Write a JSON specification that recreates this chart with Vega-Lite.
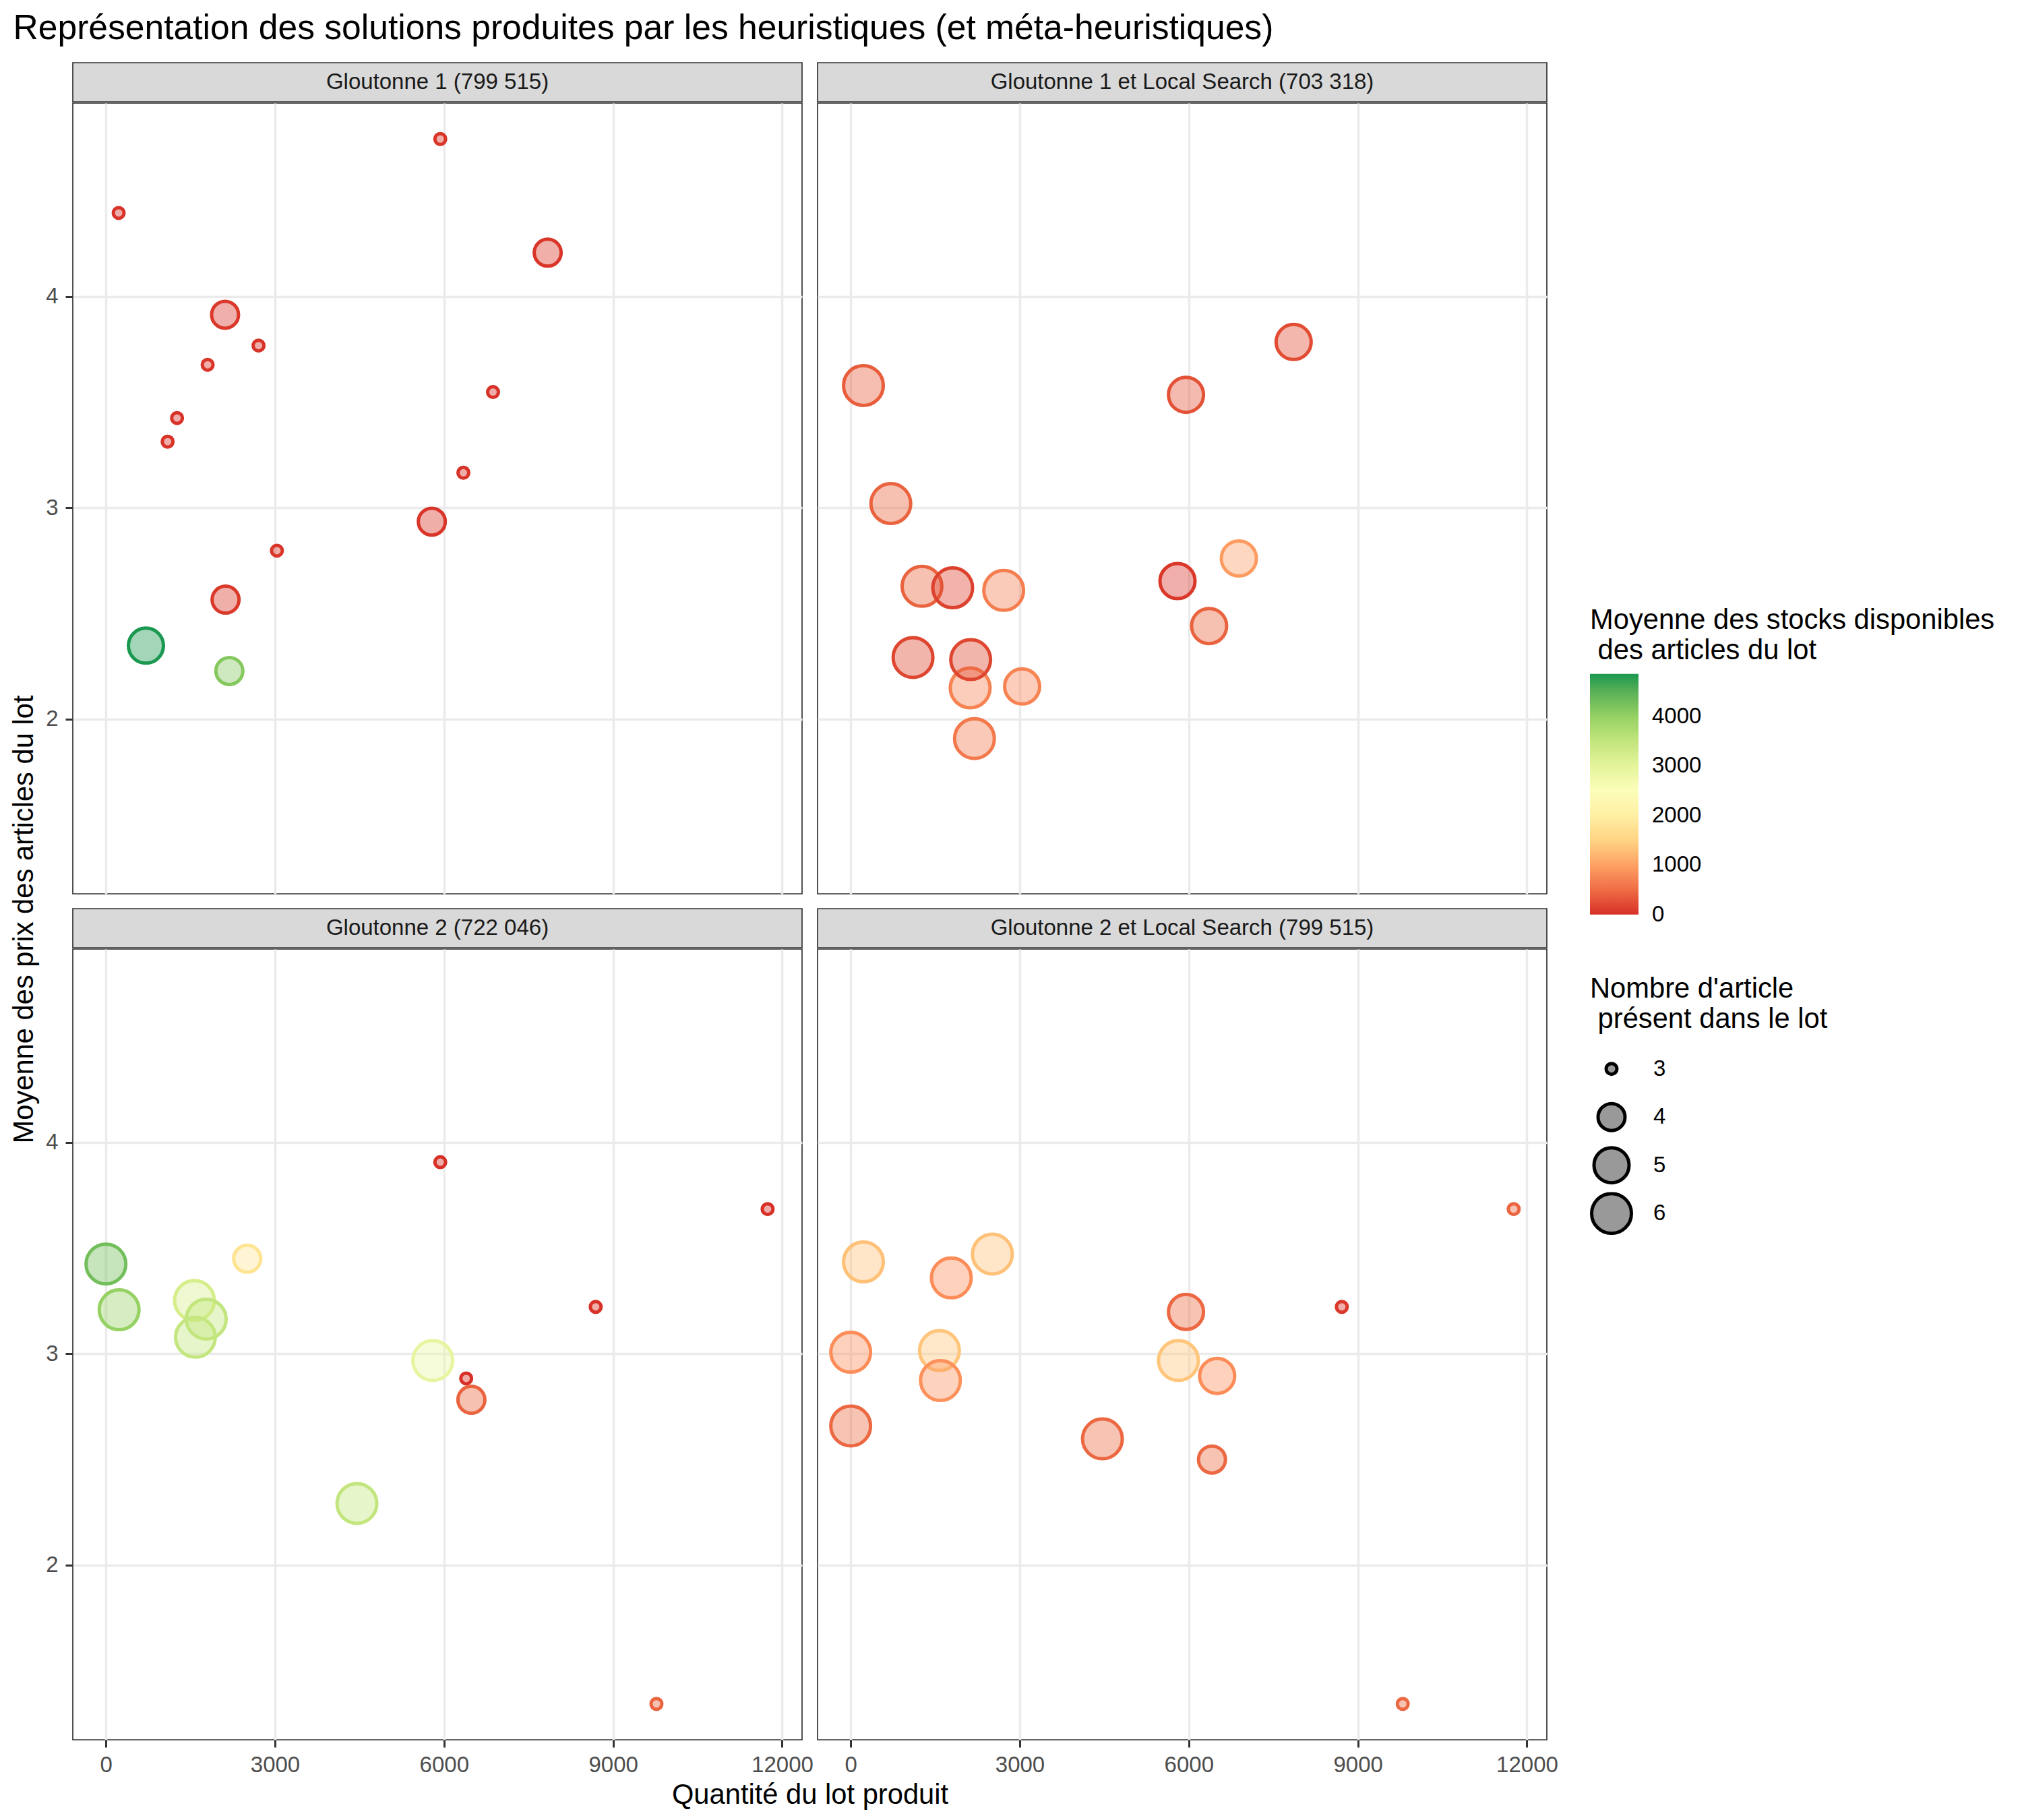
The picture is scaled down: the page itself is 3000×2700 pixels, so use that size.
{
  "$schema": "https://vega.github.io/schema/vega-lite/v6.json",
  "background": "white",
  "autosize": {"type": "pad"},
  "padding": {"left": 15, "top": 16, "right": 20, "bottom": 10},
  "title": {"text": "Représentation des solutions produites par les heuristiques (et méta-heuristiques)", "anchor": "start", "frame": "bounds", "font": "Liberation Sans", "fontSize": 51.6, "fontWeight": "normal", "color": "black", "offset": 24, "dx": 4},
  "datasets": {
    "strips": [
      {"panel": "Gloutonne 1 (799 515)"},
      {"panel": "Gloutonne 1 et Local Search (703 318)"},
      {"panel": "Gloutonne 2 (722 046)"},
      {"panel": "Gloutonne 2 et Local Search (799 515)"}
    ],
    "titres": [
      {"axe": "y", "t": "Moyenne des prix des articles du lot"},
      {"axe": "x", "t": "Quantité du lot produit"}
    ],
    "pts": [
      {"panel": "Gloutonne 1 (799 515)", "quantite": 5933, "prix": 4.746, "n": 3, "stock": 30},
      {"panel": "Gloutonne 1 (799 515)", "quantite": 226, "prix": 4.396, "n": 3, "stock": 20},
      {"panel": "Gloutonne 1 (799 515)", "quantite": 7839, "prix": 4.208, "n": 4, "stock": 40},
      {"panel": "Gloutonne 1 (799 515)", "quantite": 2114, "prix": 3.914, "n": 4, "stock": 50},
      {"panel": "Gloutonne 1 (799 515)", "quantite": 2708, "prix": 3.768, "n": 3, "stock": 20},
      {"panel": "Gloutonne 1 (799 515)", "quantite": 1805, "prix": 3.677, "n": 3, "stock": 30},
      {"panel": "Gloutonne 1 (799 515)", "quantite": 1262, "prix": 3.425, "n": 3, "stock": 10},
      {"panel": "Gloutonne 1 (799 515)", "quantite": 1095, "prix": 3.313, "n": 3, "stock": 20},
      {"panel": "Gloutonne 1 (799 515)", "quantite": 6869, "prix": 3.548, "n": 3, "stock": 10},
      {"panel": "Gloutonne 1 (799 515)", "quantite": 6343, "prix": 3.166, "n": 3, "stock": 20},
      {"panel": "Gloutonne 1 (799 515)", "quantite": 5783, "prix": 2.934, "n": 4, "stock": 30},
      {"panel": "Gloutonne 1 (799 515)", "quantite": 3034, "prix": 2.797, "n": 3, "stock": 40},
      {"panel": "Gloutonne 1 (799 515)", "quantite": 2123, "prix": 2.565, "n": 4, "stock": 60},
      {"panel": "Gloutonne 1 (799 515)", "quantite": 710, "prix": 2.347, "n": 5, "stock": 4857},
      {"panel": "Gloutonne 1 (799 515)", "quantite": 2190, "prix": 2.227, "n": 4, "stock": 4150},
      {"panel": "Gloutonne 1 et Local Search (703 318)", "quantite": 226, "prix": 3.579, "n": 6, "stock": 350},
      {"panel": "Gloutonne 1 et Local Search (703 318)", "quantite": 7860, "prix": 3.785, "n": 5, "stock": 200},
      {"panel": "Gloutonne 1 et Local Search (703 318)", "quantite": 5950, "prix": 3.535, "n": 5, "stock": 250},
      {"panel": "Gloutonne 1 et Local Search (703 318)", "quantite": 712, "prix": 3.02, "n": 6, "stock": 400},
      {"panel": "Gloutonne 1 et Local Search (703 318)", "quantite": 1265, "prix": 2.628, "n": 6, "stock": 400},
      {"panel": "Gloutonne 1 et Local Search (703 318)", "quantite": 1810, "prix": 2.621, "n": 6, "stock": 120},
      {"panel": "Gloutonne 1 et Local Search (703 318)", "quantite": 2715, "prix": 2.609, "n": 6, "stock": 650},
      {"panel": "Gloutonne 1 et Local Search (703 318)", "quantite": 5799, "prix": 2.653, "n": 5, "stock": 50},
      {"panel": "Gloutonne 1 et Local Search (703 318)", "quantite": 6888, "prix": 2.76, "n": 5, "stock": 950},
      {"panel": "Gloutonne 1 et Local Search (703 318)", "quantite": 6360, "prix": 2.44, "n": 5, "stock": 400},
      {"panel": "Gloutonne 1 et Local Search (703 318)", "quantite": 1106, "prix": 2.291, "n": 6, "stock": 150},
      {"panel": "Gloutonne 1 et Local Search (703 318)", "quantite": 2120, "prix": 2.147, "n": 6, "stock": 700},
      {"panel": "Gloutonne 1 et Local Search (703 318)", "quantite": 2129, "prix": 2.281, "n": 6, "stock": 150},
      {"panel": "Gloutonne 1 et Local Search (703 318)", "quantite": 3042, "prix": 2.154, "n": 5, "stock": 700},
      {"panel": "Gloutonne 1 et Local Search (703 318)", "quantite": 2196, "prix": 1.907, "n": 6, "stock": 600},
      {"panel": "Gloutonne 2 (722 046)", "quantite": 5933, "prix": 3.907, "n": 3, "stock": 0},
      {"panel": "Gloutonne 2 (722 046)", "quantite": 11742, "prix": 3.685, "n": 3, "stock": 0},
      {"panel": "Gloutonne 2 (722 046)", "quantite": 8691, "prix": 3.222, "n": 3, "stock": 0},
      {"panel": "Gloutonne 2 (722 046)", "quantite": 0, "prix": 3.425, "n": 6, "stock": 4300},
      {"panel": "Gloutonne 2 (722 046)", "quantite": 234, "prix": 3.208, "n": 6, "stock": 4000},
      {"panel": "Gloutonne 2 (722 046)", "quantite": 2507, "prix": 3.45, "n": 4, "stock": 1700},
      {"panel": "Gloutonne 2 (722 046)", "quantite": 1571, "prix": 3.252, "n": 6, "stock": 3270},
      {"panel": "Gloutonne 2 (722 046)", "quantite": 1780, "prix": 3.164, "n": 6, "stock": 3500},
      {"panel": "Gloutonne 2 (722 046)", "quantite": 1588, "prix": 3.078, "n": 6, "stock": 3480},
      {"panel": "Gloutonne 2 (722 046)", "quantite": 5800, "prix": 2.968, "n": 6, "stock": 2915},
      {"panel": "Gloutonne 2 (722 046)", "quantite": 6393, "prix": 2.883, "n": 3, "stock": 0},
      {"panel": "Gloutonne 2 (722 046)", "quantite": 6485, "prix": 2.782, "n": 4, "stock": 400},
      {"panel": "Gloutonne 2 (722 046)", "quantite": 4454, "prix": 2.291, "n": 6, "stock": 3500},
      {"panel": "Gloutonne 2 (722 046)", "quantite": 9769, "prix": 1.342, "n": 3, "stock": 400},
      {"panel": "Gloutonne 2 et Local Search (799 515)", "quantite": 11765, "prix": 3.685, "n": 3, "stock": 420},
      {"panel": "Gloutonne 2 et Local Search (799 515)", "quantite": 8715, "prix": 3.222, "n": 3, "stock": 50},
      {"panel": "Gloutonne 2 et Local Search (799 515)", "quantite": 226, "prix": 3.435, "n": 6, "stock": 1300},
      {"panel": "Gloutonne 2 et Local Search (799 515)", "quantite": 1785, "prix": 3.359, "n": 6, "stock": 800},
      {"panel": "Gloutonne 2 et Local Search (799 515)", "quantite": 2514, "prix": 3.472, "n": 6, "stock": 1300},
      {"panel": "Gloutonne 2 et Local Search (799 515)", "quantite": 5950, "prix": 3.198, "n": 5, "stock": 450},
      {"panel": "Gloutonne 2 et Local Search (799 515)", "quantite": 0, "prix": 3.007, "n": 6, "stock": 800},
      {"panel": "Gloutonne 2 et Local Search (799 515)", "quantite": 1575, "prix": 3.015, "n": 6, "stock": 1350},
      {"panel": "Gloutonne 2 et Local Search (799 515)", "quantite": 1592, "prix": 2.873, "n": 6, "stock": 850},
      {"panel": "Gloutonne 2 et Local Search (799 515)", "quantite": 5816, "prix": 2.968, "n": 6, "stock": 1350},
      {"panel": "Gloutonne 2 et Local Search (799 515)", "quantite": 6503, "prix": 2.895, "n": 5, "stock": 800},
      {"panel": "Gloutonne 2 et Local Search (799 515)", "quantite": 0, "prix": 2.658, "n": 6, "stock": 450},
      {"panel": "Gloutonne 2 et Local Search (799 515)", "quantite": 4467, "prix": 2.597, "n": 6, "stock": 450},
      {"panel": "Gloutonne 2 et Local Search (799 515)", "quantite": 6411, "prix": 2.499, "n": 4, "stock": 450},
      {"panel": "Gloutonne 2 et Local Search (799 515)", "quantite": 9796, "prix": 1.342, "n": 3, "stock": 450}
    ]
  },
  "spacing": 8,
  "hconcat": [
    {
      "width": 1, "height": 2542,
      "data": {"name": "titres"},
      "transform": [{"filter": {"field": "axe", "equal": "y"}}],
      "view": {"stroke": null},
      "mark": {"type": "text", "angle": 270, "baseline": "bottom", "align": "center", "font": "Liberation Sans", "fontSize": 41.7, "color": "black"},
      "encoding": {"text": {"field": "t", "type": "nominal"}}
    },
    {
      "spacing": 6,
      "vconcat": [
        {
          "spacing": 20,
          "vconcat": [
            {
              "spacing": 21,
              "hconcat": [
                {
                  "spacing": 0,
                  "vconcat": [
                    {
                      "width": 1082, "height": 58,
                      "data": {"name": "strips"},
                      "transform": [{"filter": {"field": "panel", "equal": "Gloutonne 1 (799 515)"}}],
                      "view": {"fill": "#D9D9D9", "stroke": "#333333", "strokeWidth": 1.7},
                      "mark": {"type": "text", "font": "Liberation Sans", "fontSize": 33, "color": "#1A1A1A"},
                      "encoding": {"text": {"field": "panel", "type": "nominal"}}
                    },
                    {
                      "width": 1082, "height": 1173,
                      "data": {"name": "pts"},
                      "transform": [{"filter": {"field": "panel", "equal": "Gloutonne 1 (799 515)"}}],
                      "view": {"stroke": "#333333", "strokeWidth": 1.7},
                      "mark": {"type": "point", "shape": "circle", "filled": false, "strokeWidth": 5, "fillOpacity": 0.4, "strokeOpacity": 1},
                      "encoding": {
                        "x": {"field": "quantite", "type": "quantitative", "scale": {"domain": [-588, 12353], "nice": false, "zero": false}, "axis": {"values": [0, 3000, 6000, 9000, 12000], "labels": false, "ticks": false, "title": null, "grid": true}},
                        "y": {"field": "prix", "type": "quantitative", "scale": {"domain": [1.172, 4.916], "nice": false, "zero": false}, "axis": {"values": [2, 3, 4], "grid": true, "title": null, "labelPadding": 11}},
                        "color": {"field": "stock", "type": "quantitative", "scale": {"domain": [-1, 809.5, 1619, 2428.5, 3238, 4047.5, 4857], "range": ["#D73027", "#FC8D59", "#FEE08B", "#FFFFBF", "#D9EF8B", "#91CF60", "#1A9850"], "interpolate": "lab", "nice": false, "zero": false}, "legend": {"type": "gradient", "orient": "none", "direction": "vertical", "legendX": 2302, "legendY": 807, "title": ["Moyenne des stocks disponibles", "\u200b\u00a0des articles du lot"], "titleLimit": 2000, "titleLineHeight": 45, "titlePadding": 13, "gradientLength": 357, "gradientThickness": 72, "gradientStrokeWidth": 0, "values": [0, 1000, 2000, 3000, 4000], "format": "d", "labelOffset": 20, "labelBaseline": "middle"}},
                        "fill": {"field": "stock", "type": "quantitative", "scale": {"domain": [-1, 809.5, 1619, 2428.5, 3238, 4047.5, 4857.01], "range": ["#D73027", "#FC8D59", "#FEE08B", "#FFFFBF", "#D9EF8B", "#91CF60", "#1A9850"], "interpolate": "lab", "nice": false, "zero": false}, "legend": null},
                        "size": {"field": "n", "type": "ordinal", "scale": {"type": "ordinal", "domain": [3, 4, 5, 6], "range": [256, 1600, 2704, 3481]}, "legend": {"orient": "none", "legendX": 2302, "legendY": 1354, "title": ["Nombre d'article", "\u200b\u00a0présent dans le lot"], "titleLimit": 2000, "titleLineHeight": 45, "titlePadding": 20, "symbolType": "circle", "symbolStrokeWidth": 5, "symbolFillColor": "#999999", "symbolStrokeColor": "black", "symbolOpacity": 1, "clipHeight": 64, "rowPadding": 7.5, "labelOffset": 30}}
                      }
                    }
                  ]
                },
                {
                  "spacing": 0,
                  "vconcat": [
                    {
                      "width": 1082, "height": 58,
                      "data": {"name": "strips"},
                      "transform": [{"filter": {"field": "panel", "equal": "Gloutonne 1 et Local Search (703 318)"}}],
                      "view": {"fill": "#D9D9D9", "stroke": "#333333", "strokeWidth": 1.7},
                      "mark": {"type": "text", "font": "Liberation Sans", "fontSize": 33, "color": "#1A1A1A"},
                      "encoding": {"text": {"field": "panel", "type": "nominal"}}
                    },
                    {
                      "width": 1082, "height": 1173,
                      "data": {"name": "pts"},
                      "transform": [{"filter": {"field": "panel", "equal": "Gloutonne 1 et Local Search (703 318)"}}],
                      "view": {"stroke": "#333333", "strokeWidth": 1.7},
                      "mark": {"type": "point", "shape": "circle", "filled": false, "strokeWidth": 5, "fillOpacity": 0.4, "strokeOpacity": 1},
                      "encoding": {
                        "x": {"field": "quantite", "type": "quantitative", "scale": {"domain": [-588, 12353], "nice": false, "zero": false}, "axis": {"values": [0, 3000, 6000, 9000, 12000], "labels": false, "ticks": false, "title": null, "grid": true}},
                        "y": {"field": "prix", "type": "quantitative", "scale": {"domain": [1.172, 4.916], "nice": false, "zero": false}, "axis": {"values": [2, 3, 4], "labels": false, "ticks": false, "title": null, "grid": true}},
                        "color": {"field": "stock", "type": "quantitative", "scale": {"domain": [-1, 809.5, 1619, 2428.5, 3238, 4047.5, 4857], "range": ["#D73027", "#FC8D59", "#FEE08B", "#FFFFBF", "#D9EF8B", "#91CF60", "#1A9850"], "interpolate": "lab", "nice": false, "zero": false}, "legend": {"type": "gradient", "orient": "none", "direction": "vertical", "legendX": 2302, "legendY": 807, "title": ["Moyenne des stocks disponibles", "\u200b\u00a0des articles du lot"], "titleLimit": 2000, "titleLineHeight": 45, "titlePadding": 13, "gradientLength": 357, "gradientThickness": 72, "gradientStrokeWidth": 0, "values": [0, 1000, 2000, 3000, 4000], "format": "d", "labelOffset": 20, "labelBaseline": "middle"}},
                        "fill": {"field": "stock", "type": "quantitative", "scale": {"domain": [-1, 809.5, 1619, 2428.5, 3238, 4047.5, 4857.01], "range": ["#D73027", "#FC8D59", "#FEE08B", "#FFFFBF", "#D9EF8B", "#91CF60", "#1A9850"], "interpolate": "lab", "nice": false, "zero": false}, "legend": null},
                        "size": {"field": "n", "type": "ordinal", "scale": {"type": "ordinal", "domain": [3, 4, 5, 6], "range": [256, 1600, 2704, 3481]}, "legend": {"orient": "none", "legendX": 2302, "legendY": 1354, "title": ["Nombre d'article", "\u200b\u00a0présent dans le lot"], "titleLimit": 2000, "titleLineHeight": 45, "titlePadding": 20, "symbolType": "circle", "symbolStrokeWidth": 5, "symbolFillColor": "#999999", "symbolStrokeColor": "black", "symbolOpacity": 1, "clipHeight": 64, "rowPadding": 7.5, "labelOffset": 30}}
                      }
                    }
                  ]
                }
              ]
            },
            {
              "spacing": 4,
              "hconcat": [
                {
                  "spacing": 0,
                  "vconcat": [
                    {
                      "width": 1082, "height": 58,
                      "data": {"name": "strips"},
                      "transform": [{"filter": {"field": "panel", "equal": "Gloutonne 2 (722 046)"}}],
                      "view": {"fill": "#D9D9D9", "stroke": "#333333", "strokeWidth": 1.7},
                      "mark": {"type": "text", "font": "Liberation Sans", "fontSize": 33, "color": "#1A1A1A"},
                      "encoding": {"text": {"field": "panel", "type": "nominal"}}
                    },
                    {
                      "width": 1082, "height": 1173,
                      "data": {"name": "pts"},
                      "transform": [{"filter": {"field": "panel", "equal": "Gloutonne 2 (722 046)"}}],
                      "view": {"stroke": "#333333", "strokeWidth": 1.7},
                      "mark": {"type": "point", "shape": "circle", "filled": false, "strokeWidth": 5, "fillOpacity": 0.4, "strokeOpacity": 1},
                      "encoding": {
                        "x": {"field": "quantite", "type": "quantitative", "scale": {"domain": [-588, 12353], "nice": false, "zero": false}, "axis": {"values": [0, 3000, 6000, 9000, 12000], "format": "d", "grid": true, "title": null, "labelPadding": 10}},
                        "y": {"field": "prix", "type": "quantitative", "scale": {"domain": [1.172, 4.916], "nice": false, "zero": false}, "axis": {"values": [2, 3, 4], "grid": true, "title": null, "labelPadding": 11}},
                        "color": {"field": "stock", "type": "quantitative", "scale": {"domain": [-1, 809.5, 1619, 2428.5, 3238, 4047.5, 4857], "range": ["#D73027", "#FC8D59", "#FEE08B", "#FFFFBF", "#D9EF8B", "#91CF60", "#1A9850"], "interpolate": "lab", "nice": false, "zero": false}, "legend": {"type": "gradient", "orient": "none", "direction": "vertical", "legendX": 2302, "legendY": 807, "title": ["Moyenne des stocks disponibles", "\u200b\u00a0des articles du lot"], "titleLimit": 2000, "titleLineHeight": 45, "titlePadding": 13, "gradientLength": 357, "gradientThickness": 72, "gradientStrokeWidth": 0, "values": [0, 1000, 2000, 3000, 4000], "format": "d", "labelOffset": 20, "labelBaseline": "middle"}},
                        "fill": {"field": "stock", "type": "quantitative", "scale": {"domain": [-1, 809.5, 1619, 2428.5, 3238, 4047.5, 4857.01], "range": ["#D73027", "#FC8D59", "#FEE08B", "#FFFFBF", "#D9EF8B", "#91CF60", "#1A9850"], "interpolate": "lab", "nice": false, "zero": false}, "legend": null},
                        "size": {"field": "n", "type": "ordinal", "scale": {"type": "ordinal", "domain": [3, 4, 5, 6], "range": [256, 1600, 2704, 3481]}, "legend": {"orient": "none", "legendX": 2302, "legendY": 1354, "title": ["Nombre d'article", "\u200b\u00a0présent dans le lot"], "titleLimit": 2000, "titleLineHeight": 45, "titlePadding": 20, "symbolType": "circle", "symbolStrokeWidth": 5, "symbolFillColor": "#999999", "symbolStrokeColor": "black", "symbolOpacity": 1, "clipHeight": 64, "rowPadding": 7.5, "labelOffset": 30}}
                      }
                    }
                  ]
                },
                {
                  "spacing": 0,
                  "vconcat": [
                    {
                      "width": 1082, "height": 58,
                      "data": {"name": "strips"},
                      "transform": [{"filter": {"field": "panel", "equal": "Gloutonne 2 et Local Search (799 515)"}}],
                      "view": {"fill": "#D9D9D9", "stroke": "#333333", "strokeWidth": 1.7},
                      "mark": {"type": "text", "font": "Liberation Sans", "fontSize": 33, "color": "#1A1A1A"},
                      "encoding": {"text": {"field": "panel", "type": "nominal"}}
                    },
                    {
                      "width": 1082, "height": 1173,
                      "data": {"name": "pts"},
                      "transform": [{"filter": {"field": "panel", "equal": "Gloutonne 2 et Local Search (799 515)"}}],
                      "view": {"stroke": "#333333", "strokeWidth": 1.7},
                      "mark": {"type": "point", "shape": "circle", "filled": false, "strokeWidth": 5, "fillOpacity": 0.4, "strokeOpacity": 1},
                      "encoding": {
                        "x": {"field": "quantite", "type": "quantitative", "scale": {"domain": [-588, 12353], "nice": false, "zero": false}, "axis": {"values": [0, 3000, 6000, 9000, 12000], "format": "d", "grid": true, "title": null, "labelPadding": 10}},
                        "y": {"field": "prix", "type": "quantitative", "scale": {"domain": [1.172, 4.916], "nice": false, "zero": false}, "axis": {"values": [2, 3, 4], "labels": false, "ticks": false, "title": null, "grid": true}},
                        "color": {"field": "stock", "type": "quantitative", "scale": {"domain": [-1, 809.5, 1619, 2428.5, 3238, 4047.5, 4857], "range": ["#D73027", "#FC8D59", "#FEE08B", "#FFFFBF", "#D9EF8B", "#91CF60", "#1A9850"], "interpolate": "lab", "nice": false, "zero": false}, "legend": {"type": "gradient", "orient": "none", "direction": "vertical", "legendX": 2302, "legendY": 807, "title": ["Moyenne des stocks disponibles", "\u200b\u00a0des articles du lot"], "titleLimit": 2000, "titleLineHeight": 45, "titlePadding": 13, "gradientLength": 357, "gradientThickness": 72, "gradientStrokeWidth": 0, "values": [0, 1000, 2000, 3000, 4000], "format": "d", "labelOffset": 20, "labelBaseline": "middle"}},
                        "fill": {"field": "stock", "type": "quantitative", "scale": {"domain": [-1, 809.5, 1619, 2428.5, 3238, 4047.5, 4857.01], "range": ["#D73027", "#FC8D59", "#FEE08B", "#FFFFBF", "#D9EF8B", "#91CF60", "#1A9850"], "interpolate": "lab", "nice": false, "zero": false}, "legend": null},
                        "size": {"field": "n", "type": "ordinal", "scale": {"type": "ordinal", "domain": [3, 4, 5, 6], "range": [256, 1600, 2704, 3481]}, "legend": {"orient": "none", "legendX": 2302, "legendY": 1354, "title": ["Nombre d'article", "\u200b\u00a0présent dans le lot"], "titleLimit": 2000, "titleLineHeight": 45, "titlePadding": 20, "symbolType": "circle", "symbolStrokeWidth": 5, "symbolFillColor": "#999999", "symbolStrokeColor": "black", "symbolOpacity": 1, "clipHeight": 64, "rowPadding": 7.5, "labelOffset": 30}}
                      }
                    }
                  ]
                }
              ]
            }
          ]
        },
        {
          "width": 2188, "height": 1,
          "data": {"name": "titres"},
          "transform": [{"filter": {"field": "axe", "equal": "x"}}],
          "view": {"stroke": null},
          "mark": {"type": "text", "baseline": "top", "align": "center", "font": "Liberation Sans", "fontSize": 41.7, "color": "black"},
          "encoding": {"text": {"field": "t", "type": "nominal"}}
        }
      ]
    }
  ],
  "config": {
    "font": "Liberation Sans",
    "axis": {"labelFont": "Liberation Sans", "labelFontSize": 33, "labelColor": "#4D4D4D", "tickColor": "#333333", "tickWidth": 3, "tickSize": 11, "gridColor": "#EBEBEB", "gridWidth": 3.5, "domain": false, "titleFont": "Liberation Sans", "titleFontSize": 41.7, "titleFontWeight": "normal", "titleColor": "black", "labelFlush": false},
    "legend": {"titleFont": "Liberation Sans", "titleFontSize": 41.7, "titleFontWeight": "normal", "titleColor": "black", "labelFont": "Liberation Sans", "labelFontSize": 33, "labelColor": "black", "padding": 0}
  }
}
